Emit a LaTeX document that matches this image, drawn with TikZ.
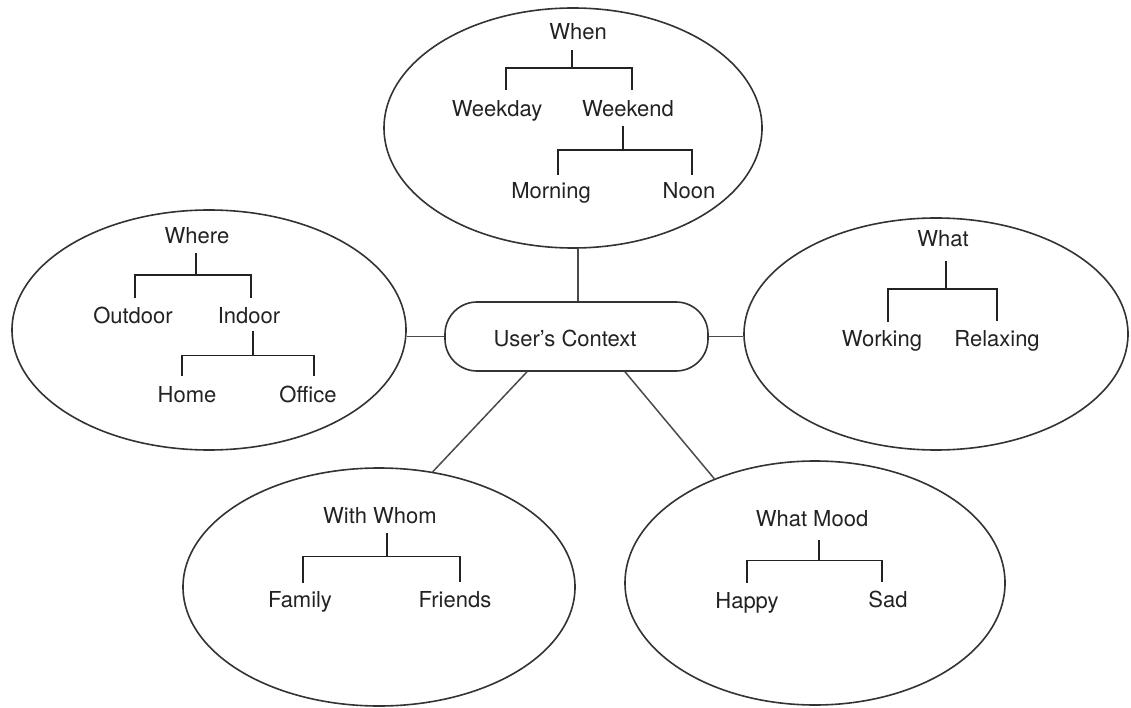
\documentclass[tikz,border=0pt]{standalone}
\usepackage{fontspec}
\setmainfont{TeX Gyre Heros}
\usetikzlibrary{shapes.geometric}
\definecolor{ink}{HTML}{222222}
\definecolor{rim}{HTML}{333333}
\definecolor{link}{HTML}{4A4A4A}
\begin{document}
\begin{tikzpicture}[x=1pt,y=-1pt,
  word/.style={font=\fontsize{22}{26}\selectfont, text=ink, inner sep=0pt,
    text height=16pt, text depth=5pt, anchor=base},
  bubble/.style={ellipse, draw=rim, line width=1.6pt, inner sep=0pt},
  hub/.style={rectangle, draw=rim, line width=1.6pt, rounded corners=32pt,
    minimum width=263pt, minimum height=69pt, inner sep=0pt},
  branch/.style={draw=ink, line width=1.4pt},
  spoke/.style={draw=link, line width=1.5pt}]
\useasboundingbox (0,0) rectangle (1131,708);

% context groups
\node[bubble, minimum width=378pt, minimum height=240pt] (eWhen) at (573,128) {};
\node[bubble, minimum width=394pt, minimum height=240pt] (eWhere) at (209,330) {};
\node[bubble, minimum width=384pt, minimum height=232pt] (eWhat) at (936,334) {};
\node[bubble, minimum width=392pt, minimum height=238pt] (eWhom) at (379,587) {};
\node[bubble, minimum width=380pt, minimum height=244pt] (eMood) at (815,583) {};

% central hub
\node[hub] (ctx) at (576.5,336.5) {};
\node[word] (ctxlabel) at (565,346) {User's Context};

% spokes from the hub
\draw[spoke] ([xshift=1.5pt]ctx.north) -- ([xshift=1.5pt]ctx.north |- eWhen.south);
\draw[spoke] (ctx.west) -- (ctx.west -| eWhere.east);
\draw[spoke] (ctx.east) -- (ctx.east -| eWhat.west);
\draw[spoke] ([xshift=-49.5pt]ctx.south) -- (eWhom.65);
\draw[spoke] ([xshift=48.5pt]ctx.south) -- (eMood.134);

% When
\node[word] (when) at (578,40) {When};
\node[word] (weekday) at (497,117) {Weekday};
\node[word] (weekend) at (628,117) {Weekend};
\node[word] (morning) at (551,199) {Morning};
\node[word] (noon) at (689,199) {Noon};
\draw[branch] ([xshift=-6pt,yshift=-5pt]when.south) -- ([xshift=-6pt,yshift=-23pt]when.south);
\draw[branch] ([xshift=9pt,yshift=11pt]weekday.north) |- ([xshift=-6pt,yshift=-23pt]when.south)
  -| ([xshift=4pt,yshift=11pt]weekend.north);
\draw[branch] ([xshift=-5pt,yshift=-4pt]weekend.south) -- ([xshift=-5pt,yshift=-28pt]weekend.south);
\draw[branch] ([xshift=7pt,yshift=8pt]morning.north) |- ([xshift=-5pt,yshift=-28pt]weekend.south)
  -| ([xshift=3pt,yshift=8pt]noon.north);

% Where
\node[word] (where) at (197,244) {Where};
\node[word] (outdoor) at (133,323) {Outdoor};
\node[word] (indoor) at (249,323) {Indoor};
\node[word] (home) at (187,402) {Home};
\node[word] (office) at (308,402) {Office};
\draw[branch] ([xshift=-1pt,yshift=-4pt]where.south) -- ([xshift=-1pt,yshift=-26pt]where.south);
\draw[branch] ([xshift=2pt,yshift=9pt]outdoor.north) |- ([xshift=-1pt,yshift=-26pt]where.south)
  -| ([xshift=2pt,yshift=9pt]indoor.north);
\draw[branch] ([xshift=4pt,yshift=-3pt]indoor.south) -- ([xshift=4pt,yshift=-27pt]indoor.south);
\draw[branch] ([xshift=-5pt,yshift=10pt]home.north) |- ([xshift=4pt,yshift=-27pt]indoor.south)
  -| ([xshift=6pt,yshift=10pt]office.north);

% What
\node[word] (what) at (943,247) {What};
\node[word] (working) at (882,346) {Working};
\node[word] (relaxing) at (997,346) {Relaxing};
\draw[branch] ([xshift=3pt,yshift=-9pt]what.south) -- ([xshift=3pt,yshift=-37pt]what.south);
\draw[branch] ([xshift=6pt,yshift=8pt]working.north) |- ([xshift=3pt,yshift=-37pt]what.south)
  -| ([yshift=9pt]relaxing.north);

% With Whom
\node[word] (whom) at (380,523) {With Whom};
\node[word] (family) at (300,607) {Family};
\node[word] (friends) at (455,607) {Friends};
\draw[branch] ([xshift=7pt,yshift=-5pt]whom.south) -- ([xshift=7pt,yshift=-28pt]whom.south);
\draw[branch] ([xshift=3pt,yshift=8pt]family.north) |- ([xshift=7pt,yshift=-28pt]whom.south)
  -| ([xshift=5pt,yshift=9pt]friends.north);

% What Mood
\node[word] (mood) at (812,526) {What Mood};
\node[word] (happy) at (747,608) {Happy};
\node[word] (sad) at (888,607) {Sad};
\draw[branch] ([xshift=7pt,yshift=-9pt]mood.south) -- ([xshift=7pt,yshift=-29pt]mood.south);
\draw[branch] ([yshift=9pt]happy.north) |- ([xshift=7pt,yshift=-29pt]mood.south)
  -| ([xshift=-6pt,yshift=9pt]sad.north);
\end{tikzpicture}
\end{document}
